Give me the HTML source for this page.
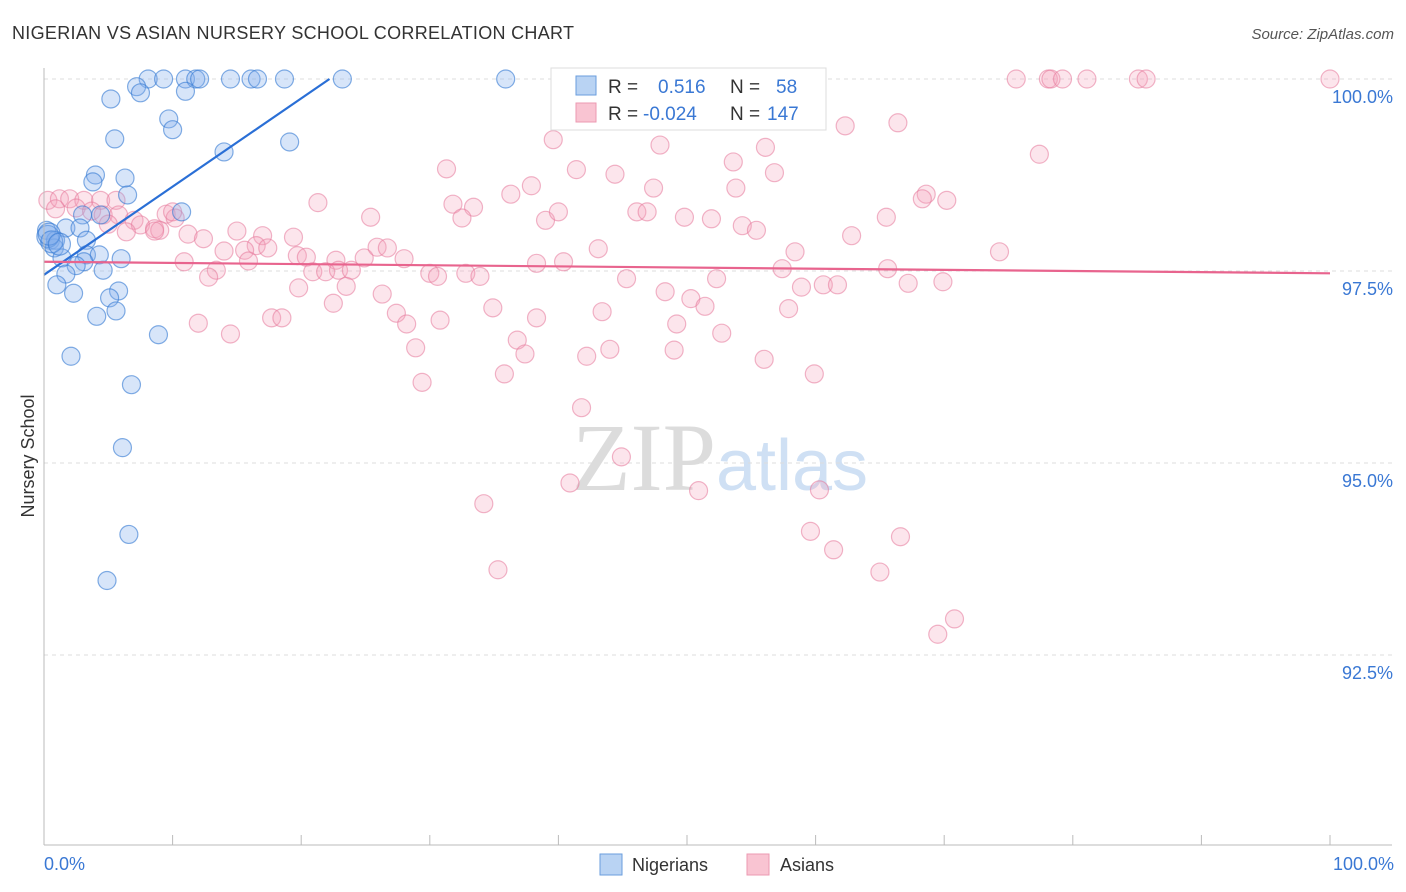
<!DOCTYPE html>
<html><head><meta charset="utf-8"><style>
body{margin:0;background:#fff;font-family:"Liberation Sans",sans-serif;}
svg{display:block}
</style></head><body>
<svg id="c" width="1406" height="892" xmlns="http://www.w3.org/2000/svg">
<text x="12" y="39" font-size="18" fill="#333" textLength="562">NIGERIAN VS ASIAN NURSERY SCHOOL CORRELATION CHART</text>
<text x="1394" y="39" font-size="15" fill="#555" font-style="italic" text-anchor="end">Source: ZipAtlas.com</text>
<text x="720" y="490" font-size="96" fill="#dcdcdc" text-anchor="middle" font-family="Liberation Serif,serif">ZIP<tspan fill="#cfe0f4" font-family="Liberation Sans,sans-serif" font-size="72">atlas</tspan></text>
<text transform="translate(34,456) rotate(-90)" font-size="18" fill="#333" text-anchor="middle">Nursery School</text>
<g id="grid"></g><g id="pts"></g><g id="lines"></g>
<line x1="44" y1="68" x2="44" y2="845" stroke="#bbb"/>
<line x1="44" y1="845" x2="1392" y2="845" stroke="#bbb"/>
<text x="44" y="870" font-size="18" fill="#3a78d4">0.0%</text>
<text x="1394" y="870" font-size="18" fill="#3a78d4" text-anchor="end">100.0%</text>
<g>
<rect x="551" y="68" width="275" height="62" fill="#fff" stroke="#ddd"/>
<rect x="576" y="76" width="20" height="19" fill="#b9d3f3" stroke="#6a9ede"/>
<rect x="576" y="103" width="20" height="19" fill="#f9c4d2" stroke="#ec9ab2"/>
<text x="608" y="93" font-size="19" fill="#333">R =  <tspan x="658" fill="#3a78d4">0.516</tspan><tspan x="730" fill="#333">N =</tspan><tspan x="776" fill="#3a78d4">58</tspan></text>
<text x="608" y="120" font-size="19" fill="#333">R = <tspan x="643" fill="#3a78d4">-0.024</tspan><tspan x="730" fill="#333">N =</tspan><tspan x="767" fill="#3a78d4">147</tspan></text>
</g>
<g><rect x="600" y="854" width="22" height="21" fill="#b9d3f3" stroke="#6a9ede"/><text x="632" y="871" font-size="18" fill="#333">Nigerians</text></g>
<g><rect x="747" y="854" width="22" height="21" fill="#f9c4d2" stroke="#ec9ab2"/><text x="780" y="871" font-size="18" fill="#333">Asians</text></g>
</svg>
<script>
const yTicks=[100,97.5,95,92.5];
const yTickLabels=["100.0%","97.5%","95.0%","92.5%"];
const xTicks=[0,10,20,30,40,50,60,70,80,90,100];
const blueX=[8.1,9.3,11.0,11.8,12.1,14.5,16.1,16.6,18.7,23.2,35.9,7.2,7.5,11.0,5.2,9.7,10.0,5.5,19.1,14.0,4.0,6.3,3.8,6.5,10.7,3.0,4.4,1.7,2.8,0.2,0.5,0.9,3.3,0.8,1.4,3.3,4.3,6.0,3.1,2.5,4.6,1.7,1.0,2.3,5.8,5.1,5.6,4.1,8.9,2.1,6.8,6.1,6.6,4.9,0.3,0.6,0.4,1.2];
const blueY=[100,100,100,100,100,100,100,100,100,100,100,99.90,99.82,99.84,99.74,99.48,99.34,99.22,99.18,99.05,98.75,98.71,98.66,98.49,98.27,98.23,98.23,98.06,98.06,98.03,97.90,97.90,97.90,97.80,97.67,97.71,97.71,97.66,97.62,97.57,97.51,97.46,97.32,97.21,97.24,97.15,96.98,96.91,96.67,96.39,96.02,95.20,94.07,93.47,97.95,97.88,97.98,97.85];
const pinkX=[75.6,78.1,78.3,79.2,81.1,85.1,85.7,100,66.4,62.3,39.6,47.9,56.1,77.4,53.6,31.3,41.4,44.4,56.8,37.9,47.4,53.8,36.3,68.6,70.2,68.3,21.3,31.8,33.4,0.3,1.2,2.0,3.1,4.4,5.6,0.9,2.5,3.7,4.6,5.8,7.0,9.5,10.2,5.0,7.5,8.6,9.0,11.2,15.0,12.4,17.0,19.4,25.4,32.5,39.0,40.0,46.1,46.9,49.8,51.9,54.3,55.4,65.5,62.8,10.0,6.4,8.6,14.0,16.5,17.4,15.6,19.7,20.4,22.7,24.9,25.9,26.7,28.0,38.3,40.4,43.1,58.4,74.3,10.9,13.4,12.8,15.9,20.9,21.9,22.9,23.9,30.0,30.6,32.8,33.9,45.3,52.3,57.4,65.6,67.2,69.9,58.9,60.6,61.7,19.8,23.5,26.3,48.3,50.3,51.4,57.9,22.5,34.9,43.4,27.4,17.7,18.5,28.2,30.8,38.3,12.0,14.5,49.2,52.7,36.8,28.9,37.4,42.2,44.0,49.0,56.0,35.8,59.9,29.4,41.8,44.9,40.9,50.9,60.3,34.2,59.6,66.6,61.4,35.3,65.0,70.8,69.5];
const pinkY=[100,100,100,100,100,100,100,100,99.43,99.39,99.21,99.14,99.11,99.02,98.92,98.83,98.82,98.76,98.78,98.61,98.58,98.58,98.50,98.50,98.42,98.44,98.39,98.37,98.33,98.42,98.44,98.44,98.42,98.42,98.42,98.31,98.32,98.28,98.23,98.23,98.16,98.24,98.19,98.11,98.10,98.05,98.03,97.98,98.02,97.92,97.96,97.94,98.20,98.19,98.16,98.27,98.27,98.27,98.20,98.18,98.09,98.03,98.20,97.96,98.27,98.01,98.02,97.76,97.83,97.80,97.77,97.70,97.68,97.64,97.67,97.81,97.80,97.66,97.60,97.62,97.79,97.75,97.75,97.62,97.51,97.42,97.63,97.49,97.49,97.51,97.51,97.47,97.43,97.47,97.43,97.40,97.40,97.53,97.53,97.34,97.36,97.29,97.32,97.32,97.28,97.30,97.20,97.23,97.14,97.04,97.01,97.08,97.02,96.97,96.95,96.89,96.89,96.81,96.86,96.89,96.82,96.68,96.81,96.69,96.60,96.50,96.42,96.39,96.48,96.47,96.35,96.16,96.16,96.05,95.72,95.08,94.74,94.64,94.65,94.47,94.11,94.04,93.87,93.61,93.58,92.97,92.77];
const blueTrendX=[0,22.2];
const blueTrendY=[97.45,100];
const pinkTrendX=[0,100];
const pinkTrendY=[97.62,97.47];

const NS="http://www.w3.org/2000/svg";
function sx(v){return 44+v*12.86;}
function sy(v){return 79+(100-v)*76.8;}
function mk(tag,attrs,parent){const e=document.createElementNS(NS,tag);for(const k in attrs)e.setAttribute(k,attrs[k]);parent.appendChild(e);return e;}
const grid=document.getElementById('grid');
yTicks.forEach((t,i)=>{
  const l=mk('line',{x1:44,x2:1392,y1:sy(t),y2:sy(t),stroke:'#ddd','stroke-dasharray':'4,4'},grid);
  
  
  const tx=mk('text',{x:1393,y:sy(t)+24,'font-size':18,fill:'#3a78d4','text-anchor':'end'},grid);
  tx.textContent=yTickLabels[i];
  
  
});
xTicks.forEach(t=>{
  const l=mk('line',{x1:sx(t),x2:sx(t),y1:835,y2:845,stroke:'#bbb'},grid);
  
  
});
const pts=document.getElementById('pts');
pinkX.forEach((x,i)=>{
  const c=mk('circle',{cx:sx(x),cy:sy(pinkY[i]),r:9,fill:'rgba(244,160,185,0.28)',stroke:'rgba(230,120,155,0.55)','stroke-width':1.2},pts);
  
  
});
blueX.forEach((x,i)=>{
  const c=mk('circle',{cx:sx(x),cy:sy(blueY[i]),r:i>=54?11:9,fill:'rgba(130,175,235,0.32)',stroke:'rgba(50,120,210,0.6)','stroke-width':1.2},pts);
  
  
});
const lines=document.getElementById('lines');
const bl=mk('line',{x1:sx(blueTrendX[0]),y1:sy(blueTrendY[0]),x2:sx(blueTrendX[1]),y2:sy(blueTrendY[1]),stroke:'#2a6fd6','stroke-width':2.2},lines);


const pl=mk('line',{x1:sx(pinkTrendX[0]),y1:sy(pinkTrendY[0]),x2:sx(pinkTrendX[1]),y2:sy(pinkTrendY[1]),stroke:'#e8648e','stroke-width':2.2},lines);


</script>
</body></html>
